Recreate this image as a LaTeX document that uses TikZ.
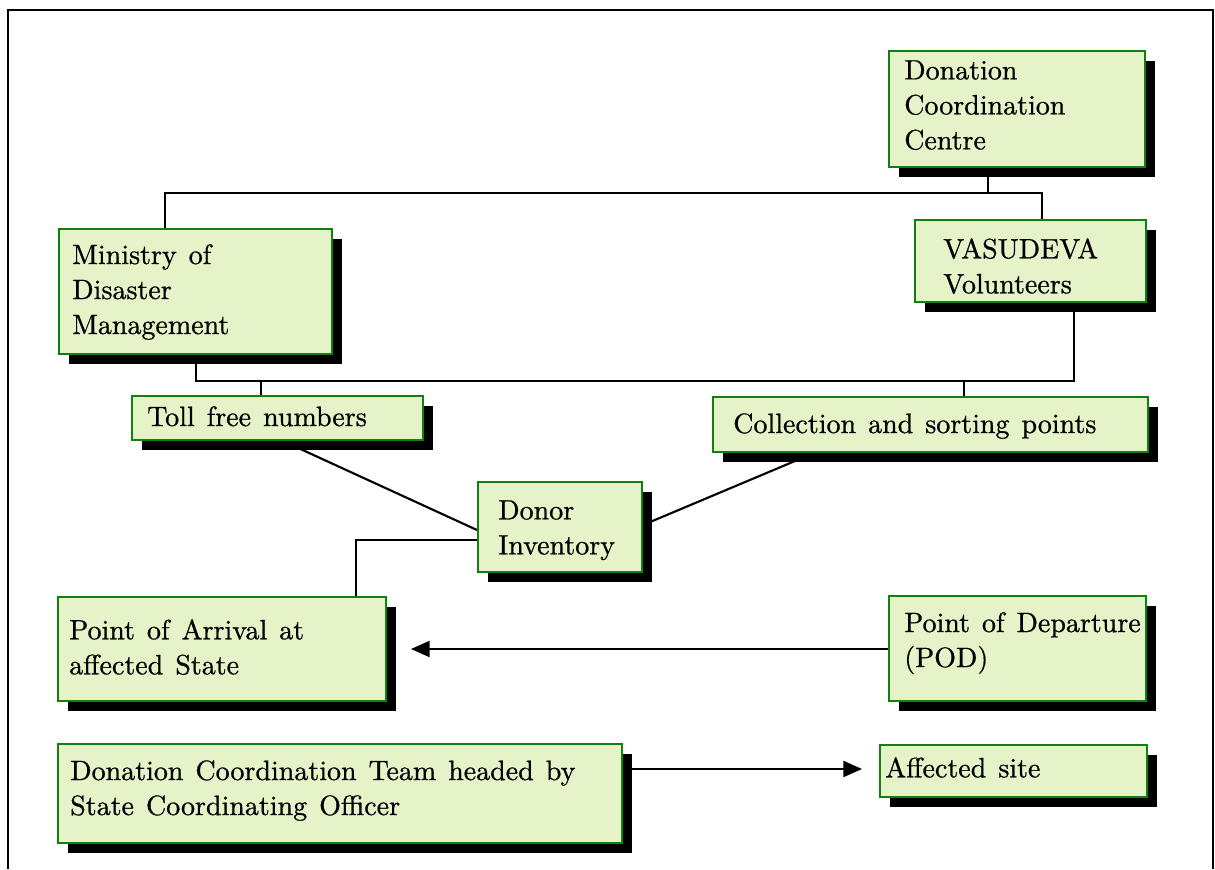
\documentclass[tikz,border=0pt]{standalone}
\usetikzlibrary{arrows.meta,calc,fit,shadows,backgrounds}
\definecolor{cardfill}{RGB}{230,243,200}
\definecolor{cardedge}{RGB}{16,128,16}
% text face of the boxes: the 10pt design of Latin Modern, set large,
% with a wider word space
\font\cardfont="[lmroman10-regular]:mapping=tex-text;embolden=0.7" at 21pt
\fontdimen2\cardfont=9pt
\begin{document}
\begin{tikzpicture}[x=0.75pt,y=-0.75pt,
  card/.style={rectangle, draw=cardedge, fill=cardfill, line width=1.5pt, inner sep=0pt,
    drop shadow={shadow xshift=7.5pt, shadow yshift=-7.5pt, fill=black, opacity=1}},
  caption/.style={anchor=north west, inner sep=0pt, align=left,
    font=\fontsize{21}{26.25}\selectfont\cardfont},
  wire/.style={line width=1.6pt, black},
  feed/.style={wire, -{Triangle[length=14pt,width=12pt]}},
  frame/.style={line width=2.2pt, black}]
\useasboundingbox (0,0) rectangle (1215,869);

% outer frame, open at the bottom
\draw[frame] (8,869) -- (8,10) -- (1213,10) -- (1213,869);

% boxes
\node[card, fit={(889,51) (1145,167)}] (dcc) {};
\node[card, fit={(915,220) (1146,302)}] (vas) {};
\node[card, fit={(59,229) (332,354)}] (min) {};
\node[card, fit={(132,396) (423,440)}] (toll) {};
\node[card, fit={(713,397) (1148,452)}] (coll) {};
\node[card, fit={(478,482) (642,572)}] (donor) {};
\node[card, fit={(58,597) (386,701)}] (arr) {};
\node[card, fit={(889,596) (1146,701)}] (pod) {};
\node[card, fit={(58,744) (622,843)}] (dct) {};
\node[card, fit={(880,745) (1147,797)}] (site) {};

% box texts
\node[caption] (dcc-t) at (904,60) {Donation\\Coordination\\Centre};
\node[caption] (vas-t) at (943,238) {VASUDEVA\\Volunteers};
\node[caption] (min-t) at (72,244) {Ministry of\\Disaster\\Management};
\node[caption] (toll-t) at (147,406) {Toll free numbers};
\node[caption] (coll-t) at (733,413) {Collection and sorting points};
\node[caption] (donor-t) at (498,500) {Donor\\Inventory};
\node[caption] (arr-t) at (69,619) {Point of Arrival at\\affected State};
\node[caption] (pod-t) at (904,612) {Point of Departure\\(POD)};
\node[caption] (dct-t) at (70,760) {Donation Coordination Team headed by\\State Coordinating Officer};
\node[caption] (site-t) at (885,757) {Affected site};

% junction points of the two buses and arrow tips
\coordinate (jB) at (1042,193);
\coordinate (jC) at (988,193);
\coordinate (jD) at (1074,381);
\coordinate (jE) at (261,381);
\coordinate (jF) at (964,381);
\coordinate (arrTip) at ($(arr.east)+(24,0)$);
\coordinate (siteTip) at ($(site.west)+(-17,-2)$);

\begin{scope}[on background layer]
  % upper bus
  \draw[wire] ($(min.north west)+(107,0)$) |- (jB) -- (jB |- vas.north);
  \draw[wire] (jC |- dcc.south) -- (jC);
  % lower bus
  \draw[wire] ($(min.south west)+(138,0)$) |- (jD) -- (jD |- vas.south);
  \draw[wire] (jE) -- (jE |- toll.north);
  \draw[wire] (jF) -- (jF |- coll.north);
  % feeds into the inventory
  \draw[wire] ($(toll.south west)+(152,0)$) -- ($(donor.north west)+(0,49)$);
  \draw[wire] ($(coll.south west)+(102,0)$) -- ($(donor.north east)+(0,44)$);
  \draw[wire] ($(donor.north west)+(0,59)$) -| ($(arr.north west)+(299,0)$);
\end{scope}

% flows
\draw[feed] (pod.west |- arrTip) -- (arrTip);
\draw[feed] (dct.east |- siteTip) -- (siteTip);
\end{tikzpicture}
\end{document}
